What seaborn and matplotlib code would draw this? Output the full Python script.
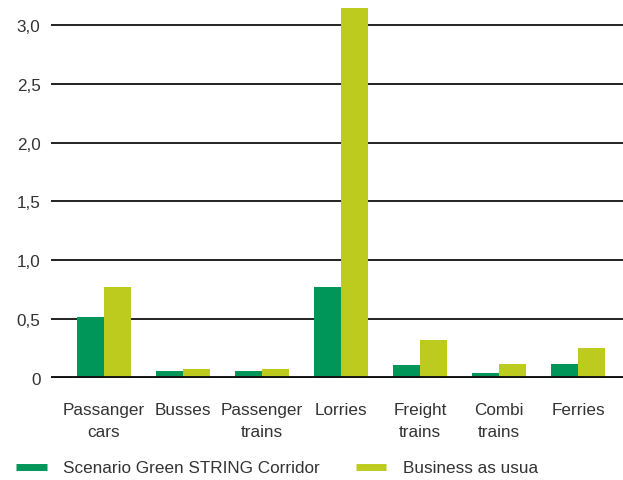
import matplotlib
matplotlib.use("Agg")
import matplotlib.pyplot as plt
from matplotlib.lines import Line2D
import seaborn as sns
import pandas as pd

categories = ["Passanger\ncars", "Busses", "Passenger\ntrains", "Lorries",
              "Freight\ntrains", "Combi\ntrains", "Ferries"]
green_string = [0.52, 0.06, 0.06, 0.77, 0.11, 0.04, 0.12]
business_as_usual = [0.77, 0.08, 0.08, 3.14, 0.32, 0.12, 0.255]
series_names = ["Scenario Green STRING Corridor", "Business as usua"]
y_ticks = [0, 0.5, 1.0, 1.5, 2.0, 2.5, 3.0]
y_tick_labels = ["0", "0,5", "1,0", "1,5", "2,0", "2,5", "3,0"]

colors = ["#00965a", "#bdcb1e"]

df = pd.DataFrame({
    "category": categories * 2,
    "value": green_string + business_as_usual,
    "series": [series_names[0]] * len(categories) + [series_names[1]] * len(categories),
})

sns.set_style("white")
plt.rcParams["font.family"] = ["Liberation Sans", "DejaVu Sans"]
text_color = "#333333"
fs = 12.3

fig = plt.figure(figsize=(6.23, 4.81), dpi=100)
ax = fig.add_axes([51 / 623, 102 / 481, 572 / 623, 376.6 / 481])

sns.barplot(data=df, x="category", y="value", hue="series", palette=colors,
            hue_order=series_names, order=categories, width=0.68,
            saturation=1, ax=ax, legend=True)

for p in ax.patches:
    p.set_edgecolor("none")

ax.set_xlim(-0.67, 6.57)
ax.set_ylim(0, 3.2)
ax.set_yticks(y_ticks)
ax.set_yticklabels(y_tick_labels)
ax.set_xlabel("")
ax.set_ylabel("")

for y in y_ticks[1:]:
    ax.axhline(y, color="#111111", lw=1.3, zorder=0)
ax.axhline(0, color="#111111", lw=2.8, zorder=3)

for s in ax.spines.values():
    s.set_visible(False)

ax.tick_params(axis="both", length=0, labelsize=fs, labelcolor=text_color)
ax.tick_params(axis="y", pad=7.5)
ax.tick_params(axis="x", pad=17)
for lbl in ax.get_xticklabels():
    lbl.set_linespacing(1.6)

leg = ax.get_legend()
if leg is not None:
    leg.remove()
handles = [Line2D([0], [0], color=c, lw=5, solid_capstyle="butt") for c in colors]
fig.legend(handles, series_names, loc="center left",
           bbox_to_anchor=(16 / 623, 12 / 481), borderaxespad=0, borderpad=0,
           ncol=2, frameon=False, fontsize=fs, handlelength=1.8,
           handletextpad=0.95, columnspacing=2.1, labelcolor=text_color)

fig.savefig("out.png", dpi=100)
